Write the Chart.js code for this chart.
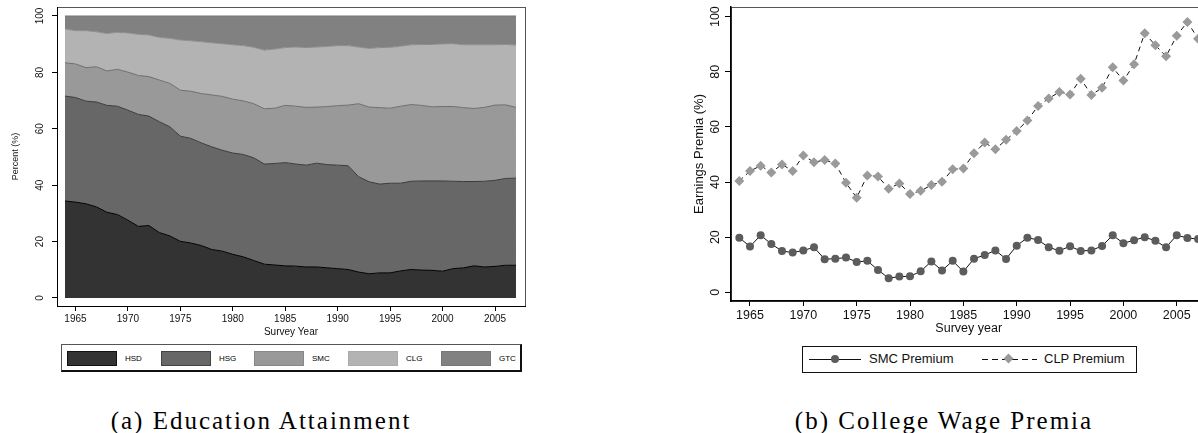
<!DOCTYPE html>
<html>
<head>
<meta charset="utf-8">
<script src="https://cdn.jsdelivr.net/npm/chart.js@4.4.1/dist/chart.umd.min.js"></script>
<style>
  html, body { margin: 0; padding: 0; background: #fff; }
  body { width: 1198px; height: 433px; overflow: hidden; position: relative; font-family: "Liberation Sans", Arial, sans-serif; color: #111; }
  .abs { position: absolute; }
  #educ { left: 0; top: 0; }
  #premia { left: 640px; top: 0; }
  .legend { position: absolute; border: 1px solid #555; border-bottom: 2px solid #111; border-right: 2px solid #111; box-sizing: border-box; }
  .sw { position: absolute; top: 6px; width: 50px; height: 15px; box-sizing: border-box; border: 1px solid #222; }
  .lab { position: absolute; top: 7px; font-size: 8px; line-height: 13px; color: #000; }
  .lab2 { position: absolute; top: 4px; font-size: 13px; line-height: 16px; }
  .ln { position: absolute; top: 12px; height: 1px; }
  .mk { position: absolute; }
  .caption { position: absolute; top: 407px; font-family: "Liberation Serif", serif; font-size: 25px; line-height: 28px; letter-spacing: 2px; text-align: center; white-space: nowrap; color: #000; }
</style>
</head>
<body>
<canvas id="educ" class="abs" width="560" height="340"></canvas>
<canvas id="premia" class="abs" width="600" height="340"></canvas>

<div class="legend" style="left:61px; top:344px; width:461px; height:28px;">
  <div class="sw" style="left:5px; background:#333333; border-color:#111;"></div><div class="lab" style="left:63px;">HSD</div>
  <div class="sw" style="left:99px; background:#676767; border-color:#444;"></div><div class="lab" style="left:157px;">HSG</div>
  <div class="sw" style="left:192px; background:#999999; border-color:#888;"></div><div class="lab" style="left:250px;">SMC</div>
  <div class="sw" style="left:286px; background:#b3b3b3; border-color:#aaa;"></div><div class="lab" style="left:344px;">CLG</div>
  <div class="sw" style="left:379px; background:#818181; border-color:#777;"></div><div class="lab" style="left:437px;">GTC</div>
</div>

<div class="legend" style="left:802px; top:346px; width:335px; height:27px; border:1px solid #111;">
  <div class="ln" style="left:6px; width:52px; background:#111;"></div>
  <div class="mk" style="left:28px; top:8px; width:8px; height:8px; border-radius:50%; background:#5c5c5c;"></div>
  <div class="lab2" style="left:66px;">SMC Premium</div>
  <div class="ln" style="left:179px; width:55px; background:repeating-linear-gradient(to right,#111 0 6px,transparent 6px 10px);"></div>
  <div class="mk" style="left:202px; top:8px; width:7px; height:7px; transform:rotate(45deg); background:#9a9a9a;"></div>
  <div class="lab2" style="left:241px;">CLP Premium</div>
</div>

<div class="caption" style="left:61px; width:400px;">(a) Education Attainment</div>
<div class="caption" style="left:744px; width:400px;">(b) College Wage Premia</div>

<script>
const years = [1964, 1965, 1966, 1967, 1968, 1969, 1970, 1971, 1972, 1973,
  1974, 1975, 1976, 1977, 1978, 1979, 1980, 1981, 1982, 1983,
  1984, 1985, 1986, 1987, 1988, 1989, 1990, 1991, 1992, 1993,
  1994, 1995, 1996, 1997, 1998, 1999, 2000, 2001, 2002, 2003,
  2004, 2005, 2006, 2007];

// education shares (%)
const hsd = [34.4, 34.0, 33.4, 32.3, 30.4, 29.6, 27.6, 25.4, 25.7, 23.2,
  22.0, 20.1, 19.5, 18.6, 17.2, 16.6, 15.5, 14.6, 13.3, 12.0,
  11.7, 11.4, 11.3, 11.0, 11.0, 10.7, 10.4, 10.1, 9.2, 8.6,
  8.9, 8.9, 9.6, 10.1, 9.9, 9.8, 9.5, 10.4, 10.7, 11.4,
  11.0, 11.2, 11.6, 11.6];
const hsg = [37.2, 37.1, 36.4, 37.2, 37.9, 38.4, 39.0, 39.7, 38.8, 39.3,
  38.7, 37.3, 37.1, 36.4, 36.4, 35.8, 35.9, 36.3, 36.4, 35.5,
  36.0, 36.6, 36.2, 36.1, 36.8, 36.6, 36.7, 36.8, 33.8, 32.6,
  31.5, 31.8, 31.1, 31.3, 31.6, 31.7, 32.0, 31.0, 30.6, 29.9,
  30.4, 30.5, 30.8, 30.9];
const smc = [11.8, 11.9, 11.9, 12.5, 12.2, 13.1, 13.5, 13.8, 14.0, 14.8,
  15.4, 16.3, 16.7, 17.5, 18.4, 19.1, 19.1, 19.0, 19.2, 19.6,
  19.6, 20.3, 20.5, 20.5, 19.9, 20.6, 21.1, 21.5, 25.9, 26.5,
  27.1, 26.6, 27.3, 27.2, 26.8, 26.3, 26.4, 26.5, 26.2, 25.9,
  26.2, 26.7, 26.1, 25.1];
const clg = [12.0, 11.8, 13.1, 12.4, 13.3, 13.1, 13.9, 14.6, 14.8, 15.1,
  16.0, 17.8, 17.9, 18.4, 18.5, 18.7, 19.3, 19.6, 20.0, 20.8,
  21.0, 20.5, 21.0, 21.2, 21.3, 21.3, 21.3, 21.1, 20.1, 20.8,
  21.3, 21.6, 21.3, 21.2, 21.6, 22.1, 22.2, 22.3, 22.3, 22.6,
  22.2, 21.4, 21.4, 22.1];
const gtc = [4.6, 5.2, 5.2, 5.6, 6.2, 5.8, 6.0, 6.5, 6.7, 7.6,
  7.9, 8.5, 8.8, 9.1, 9.5, 9.8, 10.2, 10.5, 11.1, 12.1,
  11.7, 11.2, 11.0, 11.2, 11.0, 10.8, 10.5, 10.5, 11.0, 11.5,
  11.2, 11.1, 10.7, 10.2, 10.1, 10.1, 9.9, 9.8, 10.2, 10.2,
  10.2, 10.2, 10.1, 10.3];

// earnings premia (%)
const smcPremium = [19.8, 16.6, 20.7, 17.5, 15.0, 14.4, 15.2, 16.3, 12.0, 12.2,
  12.6, 11.0, 11.4, 8.1, 5.1, 5.7, 5.8, 7.6, 11.2, 7.9,
  11.4, 7.5, 12.2, 13.5, 15.2, 12.1, 16.9, 19.8, 19.0, 16.3,
  15.1, 16.7, 15.0, 15.2, 16.8, 20.7, 17.8, 18.9, 20.0, 18.7,
  16.3, 20.7, 19.7, 19.3];
const clpPremium = [40.4, 44.0, 45.9, 43.5, 46.4, 44.0, 49.6, 47.2, 48.0, 46.7,
  39.7, 34.3, 42.4, 42.0, 37.6, 39.5, 35.7, 36.8, 38.9, 40.1,
  44.6, 44.9, 50.4, 54.3, 51.9, 55.3, 58.5, 62.3, 67.6, 70.3,
  72.7, 71.8, 77.5, 71.6, 74.2, 81.6, 76.8, 82.7, 94.0, 89.6,
  85.6, 93.1, 98.1, 92.0];

const xTicks = [1965, 1970, 1975, 1980, 1985, 1990, 1995, 2000, 2005];
const yTicks = [0, 20, 40, 60, 80, 100];

const FONT = '"Liberation Sans", Arial, sans-serif';
const pts = arr => years.map((yr, i) => ({ x: yr, y: arr[i] }));

// stata style: vertical y labels + light frame round the plot region
const stataAxes = {
  id: 'stataAxes',
  beforeDraw(chart, args, opts) {
    const a = chart.chartArea, ctx = chart.ctx;
    ctx.save();
    ctx.strokeStyle = opts.frame;
    ctx.lineWidth = 1;
    ctx.strokeRect(a.left + 0.5, a.top + 0.5, a.right - a.left, a.bottom - a.top);
    ctx.restore();
  },
  afterDraw(chart, args, opts) {
    const y = chart.scales.y, ctx = chart.ctx;
    ctx.save();
    ctx.font = opts.font;
    ctx.fillStyle = '#111';
    ctx.textAlign = 'center';
    ctx.textBaseline = 'middle';
    y.ticks.forEach(t => {
      ctx.save();
      ctx.translate(y.right - opts.offset, y.getPixelForValue(t.value));
      ctx.rotate(-Math.PI / 2);
      ctx.fillText(String(t.value), 0, 0);
      ctx.restore();
    });
    ctx.restore();
  }
};

function area(label, arr, fill, line, first) {
  return {
    label: label, data: pts(arr),
    backgroundColor: fill, borderColor: line, borderWidth: 1,
    fill: first ? 'origin' : '-1', pointRadius: 0, tension: 0
  };
}

new Chart(document.getElementById('educ'), {
  type: 'line',
  data: {
    datasets: [
      area('HSD', hsd, '#333333', '#000000', true),
      area('HSG', hsg, '#676767', '#3a3a3a'),
      area('SMC', smc, '#999999', '#6e6e6e'),
      area('CLG', clg, '#b3b3b3', '#8c8c8c'),
      area('GTC', gtc, '#818181', '#777777')
    ]
  },
  plugins: [stataAxes],
  options: {
    responsive: false,
    animation: false,
    layout: { padding: { left: 0, right: 35, top: 7, bottom: 0 } },
    plugins: {
      legend: { display: false },
      tooltip: { enabled: false },
      stataAxes: { font: '10px ' + FONT, offset: 16.5, frame: '#555' }
    },
    scales: {
      x: {
        type: 'linear', min: 1963.24, max: 2007.86,
        afterBuildTicks: s => { s.ticks = xTicks.map(v => ({ value: v })); },
        afterFit: s => { s.height = 34; },
        grid: { drawOnChartArea: false, drawTicks: true, tickLength: 5, tickColor: '#000' },
        border: { color: '#000', width: 1 },
        ticks: { color: '#111', padding: 2, maxRotation: 0, autoSkip: false,
          font: { family: FONT, size: 10 }, callback: v => String(v) },
        title: { display: true, text: 'Survey Year', color: '#111',
          font: { family: FONT, size: 10 }, padding: { top: 0, bottom: 2 } }
      },
      y: {
        stacked: true, min: -2.84, max: 103.19,
        afterBuildTicks: s => { s.ticks = yTicks.map(v => ({ value: v })); },
        afterFit: s => { s.width = 57; },
        grid: { drawOnChartArea: false, drawTicks: true, tickLength: 5, tickColor: '#000' },
        border: { color: '#000', width: 1 },
        ticks: { display: false },
        title: { display: true, text: 'Percent (%)', color: '#111',
          font: { family: FONT, size: 9 }, padding: { top: 10.6 } }
      }
    }
  }
});

new Chart(document.getElementById('premia'), {
  type: 'line',
  data: {
    datasets: [
      {
        label: 'SMC Premium', data: pts(smcPremium),
        borderColor: '#111', borderWidth: 1, tension: 0, fill: false,
        pointStyle: 'circle', pointRadius: 4, pointBorderWidth: 0,
        pointBackgroundColor: '#5c5c5c'
      },
      {
        label: 'CLP Premium', data: pts(clpPremium),
        borderColor: '#111', borderWidth: 1, borderDash: [5, 4], tension: 0, fill: false,
        pointStyle: 'rectRot', pointRadius: 5, pointBorderWidth: 0,
        pointBackgroundColor: '#9a9a9a'
      }
    ]
  },
  plugins: [stataAxes],
  options: {
    responsive: false,
    animation: false,
    layout: { padding: { left: 0, right: 33.6, top: 7, bottom: 0 } },
    plugins: {
      legend: { display: false },
      tooltip: { enabled: false },
      stataAxes: { font: '12.5px ' + FONT, offset: 15.3, frame: '#555' }
    },
    scales: {
      x: {
        type: 'linear', min: 1963.22, max: 2007.78,
        afterBuildTicks: s => { s.ticks = xTicks.map(v => ({ value: v })); },
        afterFit: s => { s.height = 39; },
        grid: { drawOnChartArea: false, drawTicks: true, tickLength: 5, tickColor: '#000' },
        border: { color: '#000', width: 1.5 },
        ticks: { color: '#111', padding: 2, maxRotation: 0, autoSkip: false,
          font: { family: FONT, size: 12.5 }, callback: v => String(v) },
        title: { display: true, text: 'Survey year', color: '#111',
          font: { family: FONT, size: 12.5 }, padding: { top: 0, bottom: 3.5 } }
      },
      y: {
        min: -3.16, max: 103.5,
        afterBuildTicks: s => { s.ticks = yTicks.map(v => ({ value: v })); },
        afterFit: s => { s.width = 91; },
        grid: { drawOnChartArea: false, drawTicks: true, tickLength: 6, tickColor: '#000' },
        border: { color: '#000', width: 1.5 },
        ticks: { display: false },
        title: { display: true, text: 'Earnings Premia (%)', color: '#111',
          font: { family: FONT, size: 13 }, padding: { top: 51.2 } }
      }
    }
  }
});
</script>
</body>
</html>
